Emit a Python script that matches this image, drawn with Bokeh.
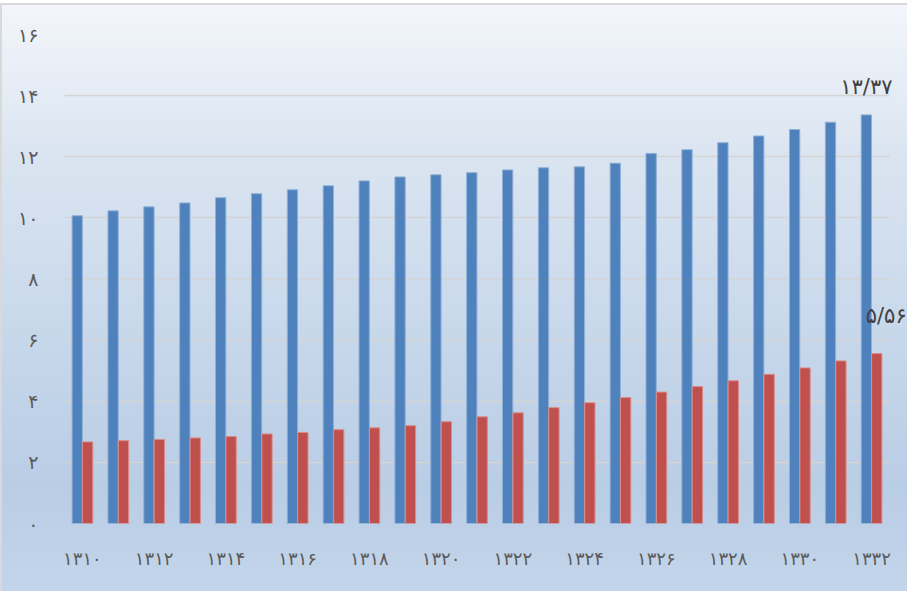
from bokeh.plotting import figure
from bokeh.models import ColumnDataSource, FixedTicker, Range1d, Label
from bokeh.transform import dodge
from bokeh.embed import file_html
from bokeh.resources import INLINE

years = list(range(1310, 1333))
series_a = [10.07, 10.23, 10.36, 10.49, 10.66, 10.79, 10.92, 11.05, 11.21, 11.34, 11.41, 11.48,
            11.57, 11.64, 11.67, 11.79, 12.11, 12.23, 12.46, 12.68, 12.89, 13.13, 13.37]
series_b = [2.67, 2.71, 2.75, 2.80, 2.85, 2.93, 2.98, 3.07, 3.13, 3.20, 3.33, 3.49,
            3.62, 3.79, 3.95, 4.12, 4.30, 4.48, 4.67, 4.88, 5.09, 5.32, 5.56]
y_ticks = [0, 2, 4, 6, 8, 10, 12, 14, 16]
x_ticks = years[::2]

FA = str.maketrans("0123456789.", "۰۱۲۳۴۵۶۷۸۹/")
def fa(v):
    return str(v).translate(FA)

FONT = "DejaVu Sans"
BLUE = "#4f81bd"
RED = "#c0504d"

src = ColumnDataSource(dict(year=years, a=series_a, b=series_b))

x0, x1 = years[0] - 0.5, years[-1] + 0.5
extra = 18 / (825 / (x1 - x0))   # frame continues past the last category so the labels are not clipped

p = figure(width=907, height=591, output_backend="svg", toolbar_location=None,
           x_range=Range1d(x0, x1 + extra), y_range=Range1d(0, 16),
           min_border_left=64, min_border_right=0, min_border_top=34, min_border_bottom=68)
p.border_fill_alpha = 0
p.background_fill_alpha = 0
p.outline_line_color = None
p.styles = {
    "background-color": "white",
    "background-image": ("linear-gradient(#d9d9d9, #d9d9d9), linear-gradient(#d9d9d9, #d9d9d9), "
                         "linear-gradient(to bottom, #f3f6fb 0%, #dbe5f1 25%, #cbdaec 50%, #b9cde5 82%, #c3d5ea 100%)"),
    "background-position": "0 3px, 0 3px, 0 3px",
    "background-size": "100% 2px, 2px 100%, 100% 100%",
    "background-repeat": "no-repeat",
}

w = 0.287
p.vbar(x=dodge("year", -0.145, range=p.x_range), top="a", width=w, source=src,
       fill_color=BLUE, line_color="#8fb0d8", line_width=1)
p.vbar(x=dodge("year", 0.145, range=p.x_range), top="b", width=w, source=src,
       fill_color=RED, line_color="#d98c8a", line_width=1)

# axes
p.xaxis.ticker = FixedTicker(ticks=x_ticks)
p.xaxis.major_label_overrides = {t: fa(t) for t in x_ticks}
p.yaxis.ticker = FixedTicker(ticks=y_ticks)
p.yaxis.major_label_overrides = {t: fa(t) for t in y_ticks}
for ax in (p.xaxis, p.yaxis):
    ax.axis_line_color = None
    ax.major_tick_line_color = None
    ax.minor_tick_line_color = None
    ax.major_label_text_font = FONT
    ax.major_label_text_color = "#5a5a5a"
p.xaxis.major_label_text_font_size = "18px"
p.yaxis.major_label_text_font_size = "19px"
p.xaxis.major_label_standoff = 18
p.yaxis.major_label_standoff = 20

p.xgrid.grid_line_color = None
p.ygrid.ticker = FixedTicker(ticks=y_ticks)
p.ygrid.cross_bounds = (x0, x1)
p.ygrid.grid_line_color = "#d4d4d4"
p.ygrid.grid_line_width = 1.5

# data labels for the last year
p.add_layout(Label(x=years[-1] - 0.145, y=series_a[-1], text=fa(series_a[-1]),
                   text_align="center", text_baseline="bottom", y_offset=16,
                   text_font=FONT, text_font_size="21px", text_color="#404040"))
p.add_layout(Label(x=years[-1] + 0.145, y=series_b[-1], text=fa(series_b[-1]),
                   text_align="left", text_baseline="bottom", x_offset=-11, y_offset=26,
                   text_font=FONT, text_font_size="21px", text_color="#404040"))

open("out.html", "w").write(file_html(p, INLINE))
